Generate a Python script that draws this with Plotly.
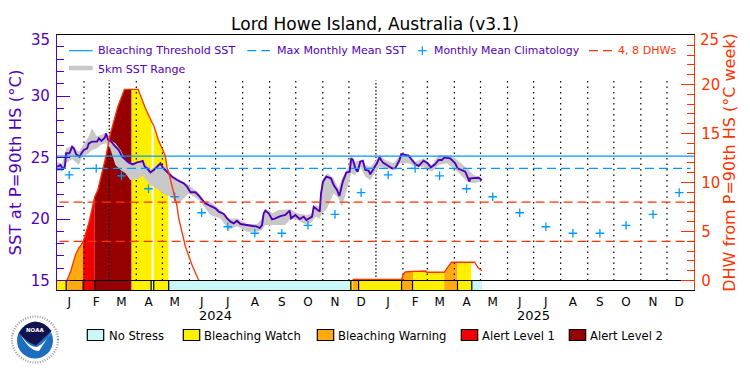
import pandas as pd
import plotly.graph_objects as go

# ---------- data ----------
TITLE = "Lord Howe Island, Australia (v3.1)"
MONTH_LETTERS = ["J","F","M","A","M","J","J","A","S","O","N","D"]
YEARS = [2024, 2025]
CLIMATOLOGY = [23.58,24.12,23.50,22.46,21.81,20.51,19.37,18.84,18.84,19.49,20.38,22.14]
THRESHOLD_SST = 25.12
MMM_SST = 24.12
DHW_LEVELS = [4, 8]

SST_DAY = [0.2,4,6.7,9,10.5,14.3,17.4,19.3,22,25.8,28.1,30.8,34.6,36.5,40.3,46,48,51,54.9,56.4,58.7,62.5,65.2,70.9,
           74.7,78.6,82.4,87,92,95.8,98.4,100.7,103.4,107.2,111,114.9,118.7,121.4,126.3,132,137.8,145.4,149.3,153.1,
           158.8,162.7,168.4,170.3,176,181.8,185.6,191.4,195.2,199,202.8,206.6,210.5,216.2,222,229.6,232.6,235.3,237.2,
           239.1,243,246.8,250.6,256.3,262.1,267,268.6,273.5,278.5,283.1,286.2,292.7,294.6,299.2,301.5,303,305.3,309.1,
           314.4,317.5,321.3,324,328,332,335.8,337.7,339.6,342.3,345,348,351,353.8,357.6,359.5,363.3,367.1,370.2,374,
           378.6,384.4,388.2,393.1,395,403.5,407.3,411.1,415,420.7,425.3,429.1,434.1,437.9,441.7,444.4,451.2,457,459.7,
           468.5,473.4,474.2,483.7,487.6]
SST_VAL = [24.25,24.39,24.07,24.25,25.34,25.34,25.88,25.75,25.26,25.07,25.34,25.61,25.75,26.15,26.29,26.29,26.56,26.34,
           26.61,26.96,26.42,26.29,26.02,25.61,25.07,24.80,24.58,24.44,24.61,24.66,24.72,24.25,24.12,23.79,23.98,24.25,
           24.53,24.17,23.85,23.44,23.17,22.90,22.63,22.17,22.17,21.90,21.41,21.27,21.06,20.87,20.60,20.41,20.05,19.78,
           19.65,19.86,19.59,19.51,19.43,19.38,19.27,19.51,20.46,20.68,20.46,19.97,20.05,20.24,20.33,20.68,20.05,20.33,
           20.00,20.19,19.92,20.19,21.00,20.73,20.60,22.09,23.04,23.44,23.31,22.76,22.36,21.87,23.04,23.77,23.85,24.93,
           24.80,24.12,23.85,24.66,24.74,23.98,23.93,23.63,24.04,24.53,25.01,24.58,24.39,24.12,24.12,24.80,25.28,25.15,
           24.80,24.47,24.31,24.74,24.53,24.20,24.47,24.80,24.80,24.99,24.93,24.53,24.12,23.85,23.04,23.31,23.36,23.17]

RANGE_DAY = [0,6,10.5,17.4,25,29,36.5,40,46,50,56.4,61,67,73,78.6,84,94,98.4,107,117,124.5,132,138,145,151,163,168,
             176,187.5,197,206.6,218,229.6,235,239,247,254.4,262,268,275.5,287,292.7,296.5,301.5,304,310,317.5,323,
             327,333.5,337.7,342.3,348,353.8,359.5,363.3,370,376.7,386,394,403.5,411,420.7,430,438,447.5,457,463.5,
             470.4,478,485.7]
RANGE_HIGH = [24.66,24.5,25.75,25.96,25.47,25.88,26.7,27.37,26.7,26.83,27.0,26.42,26.15,25.61,24.8,24.6,24.66,24.8,
              23.98,24.53,24.25,23.58,23.3,23.0,22.77,22.09,21.5,21.4,20.73,20.05,20.05,19.59,19.59,20.05,20.87,20.46,
              20.73,20.73,20.79,20.46,20.33,20.46,21.14,21.0,23.17,23.71,23.31,22.49,23.3,24.12,25.2,24.66,24.8,24.39,
              24.25,24.53,25.2,24.8,24.53,25.2,25.28,24.66,24.93,24.39,25.2,25.2,24.93,24.53,24.12,23.58,23.44]
RANGE_LOW = [23.9,23.85,24.53,24.88,24.39,25.07,25.34,25.61,25.75,26.02,26.15,25.75,24.39,23.98,23.71,23.17,23.3,23.52,
             22.77,22.36,21.95,21.8,21.14,21.68,22.08,21.55,21.08,20.33,20.05,19.1,19.43,18.97,18.97,19.1,19.51,19.51,
             19.51,19.51,20.05,19.92,19.51,19.78,20.19,20.05,20.46,20.87,22.09,21.68,21.0,22.63,23.71,23.58,24.25,23.44,
             23.17,23.58,24.25,24.12,23.98,24.53,24.53,24.25,24.25,23.85,24.39,24.53,23.98,23.58,23.04,22.9,23.04]

DHW_DAY = [10.3,11.7,15.5,21.2,25,27,30,36.5,43.2,46.8,56,61.4,69.7,77.4,85.6,93.1,100.9,105.7,108.6,110.9,116.4,124.4,
           126.4,127.7,137.8,139.7,147.4,155,162.6,339.3,346.2,395.5,397.4,399.7,407.7,408.5,423.4,423.8,444.4,
           447.8,452.8,459.7,475.4,479.2,483.7,487.6]
DHW_VAL = [0,0.05,0.9,2.6,3.32,3.52,3.97,5.87,8.52,9.23,12.63,15.02,17.73,19.51,19.51,19.51,17.7,16.68,16.2,15.85,14.34,
           12.7,11.45,11.2,7.53,6.35,3.45,1.58,0.02,0.12,0.12,0.12,0.66,0.87,0.94,0.94,0.97,0.84,0.84,1.28,1.86,1.86,
           1.86,1.86,1.24,1.0]
DHW_GAP_AFTER_DAY = 162.6

STRESS_EDGE = [0,10.3,30,43.2,85.6,108.6,110.9,127.7,337.2,339.3,346.2,395.5,408.5,444.4,459.7,475.4,487.6]
STRESS_LEVEL = [1,2,3,4,1,0,1,0,1,2,1,2,1,2,1,0]
STRESS_MARK_DAY = [10.5,30,43.3,108,111,128.2,337.2,346.1,395.4,408,459.6,476]
STRESS_NAMES = ["No Stress","Bleaching Watch","Bleaching Warning","Alert Level 1","Alert Level 2"]

# ---------- style / geometry ----------
W, H = 750, 375
L, R, T, B = 57, 694, 35, 290
PURPLE = "#5200B8"; BLUE = "#0099FF"; RED = "#FF3300"; GRAY = "#C8C8C8"
STRESS_COLORS = ["#C8F8F8","#FFF000","#FFAA11","#F00000","#960000"]
FONT = "DejaVu Sans"
Y_RANGE = [14.228, 34.96]
Y2_RANGE = [-0.969, 25.05]

px = lambda v: (v - L) / (R - L)
py = lambda v: (B - v) / (B - T)
START = pd.Timestamp("2024-01-01")
to_date = lambda days: [(START + pd.Timedelta(days=float(d))).isoformat() for d in days]

month_starts = pd.date_range("2024-01-01", "2025-12-01", freq="MS")
month_mid = month_starts + pd.Timedelta(days=14)
dense_months = {pd.Timestamp("2024-03-01"), pd.Timestamp("2025-01-01")}

fig = go.Figure()

# stress-coloured area under the DHW curve
for i, level in enumerate(STRESS_LEVEL):
    if level == 0:
        continue
    a, b = STRESS_EDGE[i], STRESS_EDGE[i + 1]
    seg = [(d, v) for d, v in zip(DHW_DAY, DHW_VAL) if a <= d <= b]
    if len(seg) < 2:
        continue
    xs = [s[0] for s in seg]
    ys = [s[1] for s in seg]
    fig.add_trace(go.Scatter(x=to_date([xs[0]] + xs + [xs[-1]]), y=[0] + ys + [0], yaxis="y2", mode="lines",
                             line=dict(width=0), fill="toself", fillcolor=STRESS_COLORS[level], hoverinfo="skip"))

# stress strip
for i, level in enumerate(STRESS_LEVEL):
    a, b = STRESS_EDGE[i], STRESS_EDGE[i + 1]
    fig.add_trace(go.Bar(x=to_date([(a + b) / 2]), y=[-Y2_RANGE[0]], base=Y2_RANGE[0], width=(b - a) * 86400000,
                         yaxis="y2", marker=dict(color=STRESS_COLORS[level], line=dict(width=0))))

# dotted month lines
for dense, dash in ((False, "1.5px,4px"), (True, "1.5px,2px")):
    xs, ys = [], []
    for m in month_starts[1:]:
        if (m in dense_months) == dense:
            xs += [m.isoformat(), m.isoformat(), None]
            ys += [0, 20.4, None]
    fig.add_trace(go.Scatter(x=xs, y=ys, yaxis="y2", mode="lines", line=dict(color="black", width=1.2, dash=dash), hoverinfo="skip"))

# strip outline and separators
fig.add_trace(go.Scatter(x=to_date([0, 731]), y=[0, 0], yaxis="y2", mode="lines", line=dict(color="black", width=1.2)))
sx, sy = [], []
for d in STRESS_MARK_DAY:
    sx += to_date([d, d]) + [None]
    sy += [Y2_RANGE[0], 0, None]
fig.add_trace(go.Scatter(x=sx, y=sy, yaxis="y2", mode="lines", line=dict(color="black", width=1.2)))

# SST range, SST, climatology, thresholds
fig.add_trace(go.Scatter(x=to_date(RANGE_DAY + RANGE_DAY[::-1]), y=RANGE_HIGH + RANGE_LOW[::-1], yaxis="y", mode="lines",
                         line=dict(width=0), fill="toself", fillcolor=GRAY))
for part in (lambda d: d <= DHW_GAP_AFTER_DAY, lambda d: d > DHW_GAP_AFTER_DAY):
    pd_day = [d for d in DHW_DAY if part(d)]
    pd_val = [v for d, v in zip(DHW_DAY, DHW_VAL) if part(d)]
    fig.add_trace(go.Scatter(x=to_date(pd_day), y=pd_val, yaxis="y3", mode="lines", line=dict(color=RED, width=1.3)))
fig.add_trace(go.Scatter(x=to_date(SST_DAY), y=SST_VAL, yaxis="y", mode="lines", line=dict(color=PURPLE, width=1.9)))
fig.add_trace(go.Scatter(x=month_mid, y=CLIMATOLOGY * 2, yaxis="y", mode="markers",
                         marker=dict(symbol="cross-thin", size=6.2, line=dict(color=BLUE, width=1.3))))
fig.add_trace(go.Scatter(x=to_date([0, 731]), y=[THRESHOLD_SST] * 2, yaxis="y", mode="lines", line=dict(color=BLUE, width=1.3)))
fig.add_trace(go.Scatter(x=to_date([0, 727]), y=[MMM_SST] * 2, yaxis="y", mode="lines", line=dict(color=BLUE, width=1.2, dash="9px,5px")))
for lv in DHW_LEVELS:
    fig.add_trace(go.Scatter(x=to_date([3, 731]), y=[lv] * 2, yaxis="y3", mode="lines", line=dict(color=RED, width=1.2, dash="9px,5px")))

# ---------- legends ----------
shapes, annos = [], []
LEG_SIZE = 11.1
def text(x, y, s, color, size=LEG_SIZE, anchor="left"):
    annos.append(dict(xref="paper", yref="paper", x=px(x), y=py(y), text=s, showarrow=False, xanchor=anchor, yanchor="middle",
                      font=dict(family=FONT, size=size, color=color), borderpad=0, borderwidth=0))
def hline(x0, x1, y, color, width=1.2, dash="solid"):
    shapes.append(dict(type="line", xref="paper", yref="paper", x0=px(x0), x1=px(x1), y0=py(y), y1=py(y),
                       line=dict(color=color, width=width, dash=dash)))

hline(69, 92.7, 50.7, BLUE)
text(98, 50.7, "Bleaching Threshold SST", PURPLE)
hline(247.3, 270, 50.7, BLUE, dash="9px,5px")
text(276.5, 50.7, "Max Monthly Mean SST", PURPLE)
hline(418, 426.7, 50.7, BLUE)
shapes.append(dict(type="line", xref="paper", yref="paper", x0=px(422.3), x1=px(422.3), y0=py(46.3), y1=py(55),
                   line=dict(color=BLUE, width=1.2)))
text(433.5, 50.7, "Monthly Mean Climatology", PURPLE, size=10.9)
hline(589, 612.3, 50.7, RED, dash="9px,5px")
text(618, 50.7, "4, 8 DHWs", RED)
hline(69, 92.7, 68, GRAY, width=4.5)
text(98, 69, "5km SST Range", PURPLE)

for name, color, bx, tx in zip(STRESS_NAMES, STRESS_COLORS, [87.3,183.3,317.3,461.3,569.3], [109,204,338,482,590]):
    shapes.append(dict(type="rect", xref="paper", yref="paper", x0=px(bx), x1=px(bx + 16.4), y0=py(329.5), y1=py(340.5),
                       fillcolor=color, line=dict(color="black", width=1.2)))
    text(tx, 335.5, name, "black", size=11.6)

for y, d in zip(YEARS, ["-07-01", "-07-01"]):
    annos.append(dict(xref="x", yref="paper", x=f"{y}{d}", y=py(315.7), text=str(y), showarrow=False, yanchor="middle",
                      font=dict(family=FONT, size=13, color="black")))

# top tick labels sit just below the frame in the reference
text(50, 40, "35", PURPLE, size=15, anchor="right")
text(700, 40, "25", RED, size=15, anchor="left")

# NOAA logo
cx, cy = 35, 339.5
def circle(r, fill, line=None, width=0, dash="solid", c=(cx, cy)):
    shapes.append(dict(type="circle", xref="paper", yref="paper", x0=px(c[0] - r), x1=px(c[0] + r), y0=py(c[1] + r), y1=py(c[1] - r),
                       fillcolor=fill, line=dict(color=line or fill, width=width, dash=dash)))
def path(points, fill):
    d = " ".join(f"{cmd} " + " ".join(f"{px(a):.5f},{py(b):.5f}" for a, b in pts) for cmd, pts in points) + " Z"
    shapes.append(dict(type="path", xref="paper", yref="paper", path=d, fillcolor=fill, line=dict(width=0)))
circle(23, "white", "#9A9A9A", 2.2, "1px,1.5px")
circle(18, "#1C6FBE", c=(cx, 340.5))
path([("M", [(19, 331)]), ("Q", [(27, 347), (37, 347)]), ("Q", [(46, 343), (54, 328)]), ("Q", [(47, 339), (39, 351)]),
      ("Q", [(28, 351), (19, 331)])], "white")
path([("M", [(19, 333)]), ("Q", [(26, 322), (35, 321.5)]), ("Q", [(45, 322), (51.5, 331)]), ("L", [(36, 345.5)]),
      ("Q", [(26, 342), (19, 333)])], "#12124E")
annos.append(dict(xref="paper", yref="paper", x=px(35), y=py(330.5), text="<b>NOAA</b>", showarrow=False, yanchor="middle",
                  xanchor="center", font=dict(family=FONT, size=5.5, color="white")))

fig.update_layout(
    width=W, height=H, margin=dict(l=L, r=W - R, t=T, b=H - B), paper_bgcolor="white", plot_bgcolor="white",
    showlegend=False, barmode="overlay", shapes=shapes, annotations=annos,
    title=dict(text=TITLE, x=0.5, xanchor="center", y=1 - 24 / H, yanchor="middle", font=dict(family=FONT, size=17, color="black")),
    xaxis=dict(type="date", range=["2024-01-01", "2026-01-01"], tickmode="array", tickvals=list(month_mid),
               ticktext=MONTH_LETTERS * 2, ticks="", showgrid=False, zeroline=False, showline=True, linecolor="black", linewidth=1.2,
               mirror=True, tickfont=dict(family=FONT, size=12, color="black"), tickangle=0),
    yaxis=dict(range=Y_RANGE, overlaying="y2", side="left", anchor="x", tickmode="array", tickvals=[15, 20, 25, 30],
               showgrid=False, zeroline=False, showline=True, linecolor=PURPLE, linewidth=1.3,
               ticks="inside", ticklen=13, tickwidth=1.3, tickcolor=PURPLE,
               minor=dict(dtick=1, ticks="inside", ticklen=6.5, tickwidth=1.3, tickcolor=PURPLE, showgrid=False),
               tickfont=dict(family=FONT, size=15, color=PURPLE), ticklabelstandoff=3,
               title=dict(text="SST at P=90th HS (°C)", font=dict(family=FONT, size=16.5, color=PURPLE), standoff=4)),
    yaxis2=dict(range=Y2_RANGE, side="right", anchor="x", tickmode="array", tickvals=[0, 5, 10, 15, 20],
                showgrid=False, zeroline=False, showline=True, linecolor=RED, linewidth=1.3,
                ticks="inside", ticklen=13, tickwidth=1.3, tickcolor=RED,
                minor=dict(dtick=1, ticks="inside", ticklen=6.5, tickwidth=1.3, tickcolor=RED, showgrid=False),
                tickfont=dict(family=FONT, size=15, color=RED), ticklabelstandoff=3,
                title=dict(text="DHW from P=90th HS (°C week)", font=dict(family=FONT, size=16, color=RED), standoff=3)),
    yaxis3=dict(range=Y2_RANGE, overlaying="y2", side="right", anchor="x", visible=False),
)
fig.write_html("out.html", config=dict(displayModeBar=False), post_script="document.body.style.margin='0';")
